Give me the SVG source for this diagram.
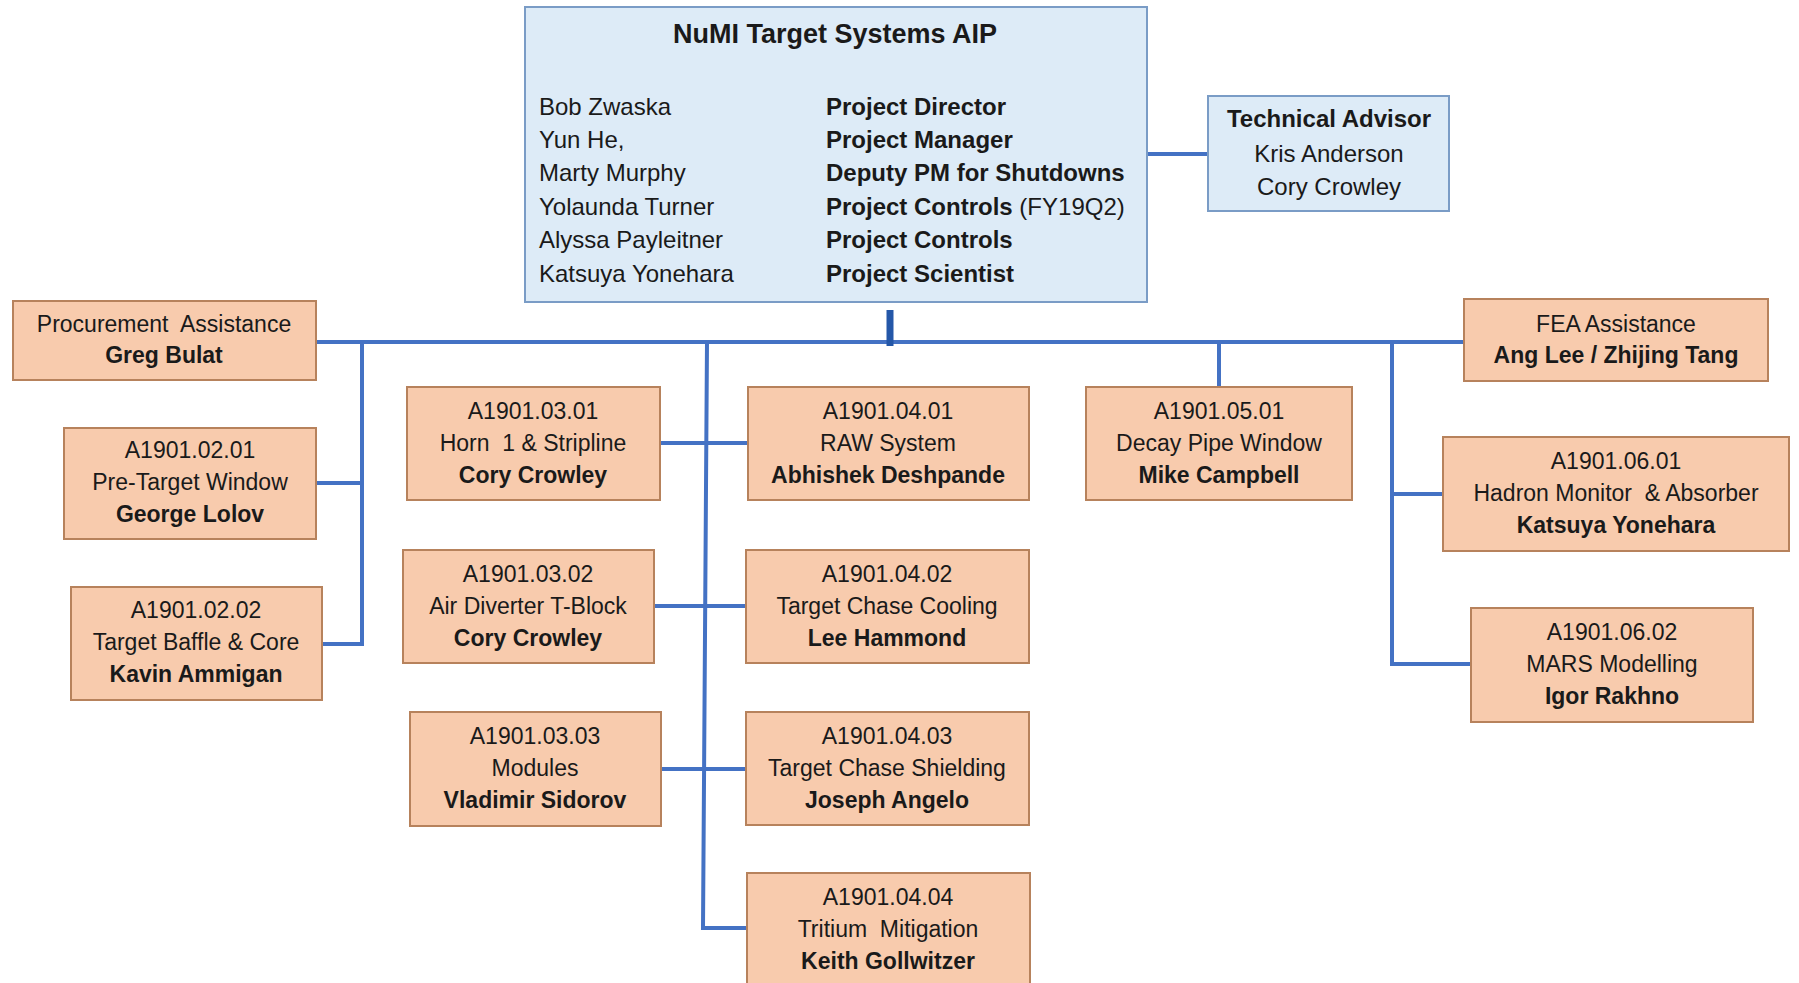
<svg xmlns="http://www.w3.org/2000/svg" width="1799" height="983" viewBox="0 0 1799 983">
<style>
  text { font-family: "Liberation Sans", Arial, sans-serif; fill: #1a1a1a; }
  .t { font-size: 23px; text-anchor: middle; }
  .b { font-weight: bold; }
  .m { font-size: 24px; }
  .box { fill: #F8CBAD; stroke: #B7825C; stroke-width: 2; }
  .blue { fill: #DDEBF7; stroke: #7A9CC6; stroke-width: 2; }
  .ln { stroke: #4472C4; stroke-width: 4; fill: none; }
</style>
<rect width="1799" height="983" fill="#ffffff"/>

<g id="connectors">
  <line class="ln" x1="1147" y1="154" x2="1208" y2="154"/>
  <line class="ln" x1="316" y1="342" x2="1464" y2="342"/>
  <line x1="890" y1="310" x2="890" y2="346" stroke="#2457A8" stroke-width="7"/>
  <!-- left branch -->
  <polyline class="ln" points="362,342 362,644 322,644"/>
  <line class="ln" x1="316" y1="483" x2="362" y2="483"/>
  <!-- center branch -->
  <polyline class="ln" points="707,342 703,928 747,928"/>
  <line class="ln" x1="660" y1="443" x2="748" y2="443"/>
  <line class="ln" x1="654" y1="606" x2="746" y2="606"/>
  <line class="ln" x1="661" y1="769" x2="746" y2="769"/>
  <!-- decay pipe -->
  <line class="ln" x1="1219" y1="342" x2="1219" y2="387"/>
  <!-- right branch -->
  <polyline class="ln" points="1392,342 1392,664 1471,664"/>
  <line class="ln" x1="1392" y1="494" x2="1443" y2="494"/>
</g>

<g id="main">
  <rect class="blue" x="525" y="7" width="622" height="295"/>
  <text x="835" y="43" font-size="27" font-weight="bold" text-anchor="middle">NuMI Target Systems AIP</text>
  <text class="m" x="539" y="115">Bob Zwaska</text>
  <text class="m" x="539" y="148">Yun He,</text>
  <text class="m" x="539" y="181">Marty Murphy</text>
  <text class="m" x="539" y="215">Yolaunda Turner</text>
  <text class="m" x="539" y="248">Alyssa Payleitner</text>
  <text class="m" x="539" y="282">Katsuya Yonehara</text>
  <text class="m b" x="826" y="115">Project Director</text>
  <text class="m b" x="826" y="148">Project Manager</text>
  <text class="m b" x="826" y="181">Deputy PM for Shutdowns</text>
  <text class="m" x="826" y="215"><tspan font-weight="bold">Project Controls</tspan> (FY19Q2)</text>
  <text class="m b" x="826" y="248">Project Controls</text>
  <text class="m b" x="826" y="282">Project Scientist</text>
</g>

<g id="tech-advisor">
  <rect class="blue" x="1208" y="96" width="241" height="115"/>
  <text class="m b" x="1329" y="127" text-anchor="middle">Technical Advisor</text>
  <text class="m" x="1329" y="162" text-anchor="middle">Kris Anderson</text>
  <text class="m" x="1329" y="195" text-anchor="middle">Cory Crowley</text>
</g>

<g id="procurement">
  <rect class="box" x="13" y="301" width="303" height="79"/>
  <text class="t" x="164" y="332" xml:space="preserve">Procurement  Assistance</text>
  <text class="t b" x="164" y="363">Greg Bulat</text>
</g>

<g id="fea">
  <rect class="box" x="1464" y="299" width="304" height="82"/>
  <text class="t" x="1616" y="332">FEA Assistance</text>
  <text class="t b" x="1616" y="363">Ang Lee / Zhijing Tang</text>
</g>

<g id="n020101">
  <rect class="box" x="64" y="428" width="252" height="111"/>
  <text class="t" x="190" y="458">A1901.02.01</text>
  <text class="t" x="190" y="490">Pre-Target Window</text>
  <text class="t b" x="190" y="522">George Lolov</text>
</g>

<g id="n020202">
  <rect class="box" x="71" y="587" width="251" height="113"/>
  <text class="t" x="196" y="618">A1901.02.02</text>
  <text class="t" x="196" y="650">Target Baffle &amp; Core</text>
  <text class="t b" x="196" y="682">Kavin Ammigan</text>
</g>

<g id="n030301">
  <rect class="box" x="407" y="387" width="253" height="113"/>
  <text class="t" x="533" y="419">A1901.03.01</text>
  <text class="t" x="533" y="451" xml:space="preserve">Horn  1 &amp; Stripline</text>
  <text class="t b" x="533" y="483">Cory Crowley</text>
</g>

<g id="n030302">
  <rect class="box" x="403" y="550" width="251" height="113"/>
  <text class="t" x="528" y="582">A1901.03.02</text>
  <text class="t" x="528" y="614">Air Diverter T-Block</text>
  <text class="t b" x="528" y="646">Cory Crowley</text>
</g>

<g id="n030303">
  <rect class="box" x="410" y="712" width="251" height="114"/>
  <text class="t" x="535" y="744">A1901.03.03</text>
  <text class="t" x="535" y="776">Modules</text>
  <text class="t b" x="535" y="808">Vladimir Sidorov</text>
</g>

<g id="n040401a">
  <rect class="box" x="748" y="387" width="281" height="113"/>
  <text class="t" x="888" y="419">A1901.04.01</text>
  <text class="t" x="888" y="451">RAW System</text>
  <text class="t b" x="888" y="483">Abhishek Deshpande</text>
</g>

<g id="n040402">
  <rect class="box" x="746" y="550" width="283" height="113"/>
  <text class="t" x="887" y="582">A1901.04.02</text>
  <text class="t" x="887" y="614">Target Chase Cooling</text>
  <text class="t b" x="887" y="646">Lee Hammond</text>
</g>

<g id="n040403">
  <rect class="box" x="746" y="712" width="283" height="113"/>
  <text class="t" x="887" y="744">A1901.04.03</text>
  <text class="t" x="887" y="776">Target Chase Shielding</text>
  <text class="t b" x="887" y="808">Joseph Angelo</text>
</g>

<g id="n040404">
  <rect class="box" x="747" y="873" width="283" height="130"/>
  <text class="t" x="888" y="905">A1901.04.04</text>
  <text class="t" x="888" y="937" xml:space="preserve">Tritium  Mitigation</text>
  <text class="t b" x="888" y="969">Keith Gollwitzer</text>
</g>

<g id="n050501">
  <rect class="box" x="1086" y="387" width="266" height="113"/>
  <text class="t" x="1219" y="419">A1901.05.01</text>
  <text class="t" x="1219" y="451">Decay Pipe Window</text>
  <text class="t b" x="1219" y="483">Mike Campbell</text>
</g>

<g id="n060601">
  <rect class="box" x="1443" y="437" width="346" height="114"/>
  <text class="t" x="1616" y="469">A1901.06.01</text>
  <text class="t" x="1616" y="501" xml:space="preserve">Hadron Monitor  &amp; Absorber</text>
  <text class="t b" x="1616" y="533">Katsuya Yonehara</text>
</g>

<g id="n060602">
  <rect class="box" x="1471" y="608" width="282" height="114"/>
  <text class="t" x="1612" y="640">A1901.06.02</text>
  <text class="t" x="1612" y="672">MARS Modelling</text>
  <text class="t b" x="1612" y="704">Igor Rakhno</text>
</g>
</svg>
